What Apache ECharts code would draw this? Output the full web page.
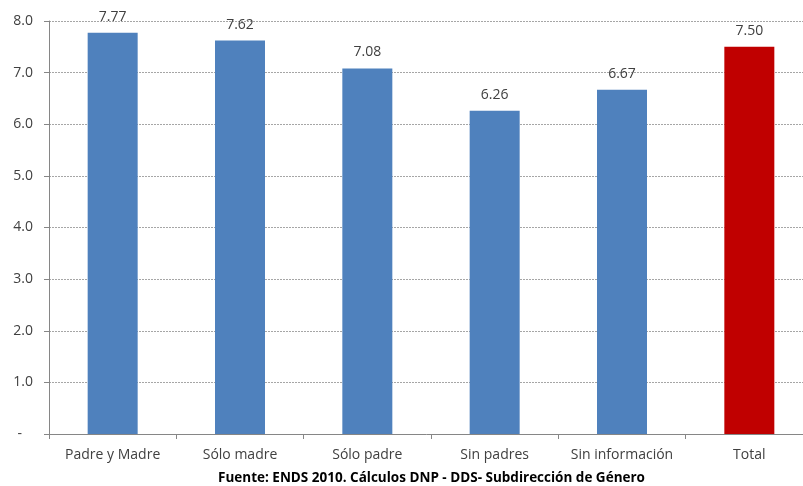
<!DOCTYPE html>
<html><head><meta charset="utf-8">
<script src="https://cdn.jsdelivr.net/npm/echarts@6/dist/echarts.min.js"></script>
<style>html,body{margin:0;padding:0;background:#fff;overflow:hidden}#c{width:803px;height:486px}</style>
</head><body><div id="c"></div>
<script>
var categories = ["Padre y Madre", "Sólo madre", "Sólo padre", "Sin padres", "Sin información", "Total"];
var values = [7.77, 7.62, 7.08, 6.26, 6.67, 7.50];
var barColors = ["#4F81BD", "#4F81BD", "#4F81BD", "#4F81BD", "#4F81BD", "#C00000"];
var sourceText = "Fuente: ENDS 2010. Cálculos DNP - DDS- Subdirección de Género";

var chart = echarts.init(document.getElementById('c'));
var font = "'Open Sans', 'Noto Sans', sans-serif";
chart.setOption({
  animation: false,
  grid: {left: 49, width: 764, top: 21, bottom: 52, containLabel: false, outerBoundsMode: 'none'},
  xAxis: {
    type: 'category', data: categories,
    axisLine: {lineStyle: {color: '#868686'}},
    axisTick: {show: true, length: 5, lineStyle: {color: '#868686'}},
    axisLabel: {color: '#404040', fontSize: 14, fontFamily: font, margin: 14, interval: 0}
  },
  yAxis: {
    type: 'value', min: 0, max: 8, interval: 1,
    axisLine: {show: true, lineStyle: {color: '#868686'}},
    axisTick: {show: true, length: 5, lineStyle: {color: '#868686'}},
    splitLine: {lineStyle: {color: '#A6A6A6', type: [2, 1], width: 1}},
    axisLabel: {color: '#404040', fontSize: 14, fontFamily: font, margin: 16,
      formatter: function (v) { return v === 0 ? '-   ' : v.toFixed(1); }}
  },
  series: [{
    type: 'bar', barWidth: 50,
    data: values.map(function (v, i) { return {value: v, itemStyle: {color: barColors[i]}}; }),
    label: {show: true, position: 'top', distance: 9, color: '#404040', fontSize: 14, fontFamily: font,
      formatter: function (p) { return p.value.toFixed(2); }}
  }],
  graphic: [{
    type: 'text', left: 218, top: 471,
    style: {text: sourceText, font: "bold 13.5px 'Open Sans', 'Noto Sans', sans-serif", fill: '#000'}
  }]
});
</script></body></html>
